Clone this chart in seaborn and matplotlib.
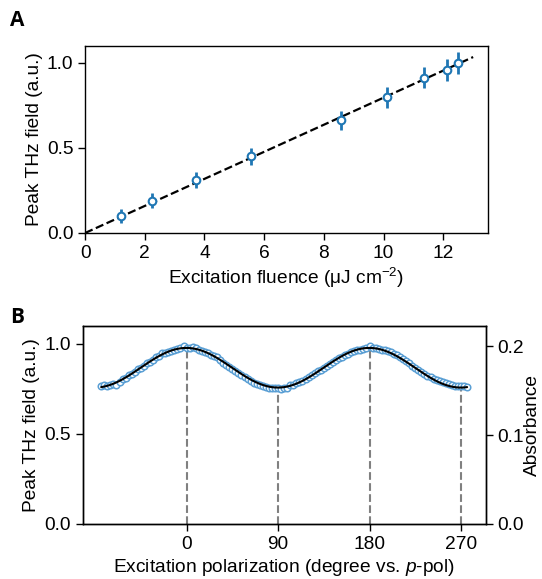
import numpy as np
import pandas as pd
import matplotlib
matplotlib.use("Agg")
import matplotlib.pyplot as plt
import seaborn as sns

# panel A: peak field vs fluence
fluence = [1.20, 2.24, 3.70, 5.57, 8.58, 10.11, 11.35, 12.14, 12.50]
peak_field = [0.100, 0.190, 0.310, 0.450, 0.663, 0.798, 0.914, 0.959, 1.002]
peak_err = [0.040, 0.044, 0.047, 0.050, 0.057, 0.060, 0.064, 0.065, 0.065]

# panel B: peak field vs polarization angle
angle_start, angle_step = -84, 3
pol_field = [
    0.768, 0.770, 0.768, 0.773, 0.778, 0.774, 0.790, 0.805, 0.812, 0.828,
    0.836, 0.846, 0.860, 0.868, 0.878, 0.892, 0.901, 0.913, 0.926, 0.934,
    0.948, 0.950, 0.955, 0.962, 0.968, 0.972, 0.980, 0.986, 0.978, 0.976,
    0.982, 0.979, 0.968, 0.962, 0.955, 0.952, 0.940, 0.933, 0.925, 0.910,
    0.896, 0.884, 0.872, 0.862, 0.851, 0.840, 0.828, 0.816, 0.806, 0.797,
    0.786, 0.778, 0.770, 0.764, 0.759, 0.757, 0.758, 0.754, 0.755, 0.752,
    0.756, 0.757, 0.770, 0.774, 0.783, 0.790, 0.796, 0.806, 0.815, 0.826,
    0.837, 0.848, 0.856, 0.868, 0.880, 0.890, 0.902, 0.911, 0.920, 0.930,
    0.936, 0.945, 0.956, 0.962, 0.964, 0.968, 0.970, 0.975, 0.988, 0.978,
    0.975, 0.974, 0.969, 0.965, 0.960, 0.953, 0.944, 0.936, 0.925, 0.915,
    0.904, 0.894, 0.878, 0.868, 0.857, 0.846, 0.832, 0.822, 0.815, 0.807,
    0.800, 0.792, 0.787, 0.781, 0.776, 0.772, 0.769, 0.765, 0.764, 0.768,
    0.761,
]
pol_angle = angle_start + angle_step * np.arange(len(pol_field))
marked_angles = [0, 90, 180, 270]
absorb_top = 0.223

sns.set_theme(style="ticks")
plt.rcParams["font.family"] = ["Liberation Sans", "DejaVu Sans"]
plt.rcParams["mathtext.fontset"] = "custom"
plt.rcParams["mathtext.rm"] = "Liberation Sans"
plt.rcParams["mathtext.it"] = "Liberation Sans:italic"
fs = 13.8
plt.rcParams["font.size"] = fs
for k in ["axes.labelsize", "xtick.labelsize", "ytick.labelsize"]:
    plt.rcParams[k] = fs
for k in ["text.color", "axes.labelcolor", "xtick.color", "ytick.color", "axes.edgecolor"]:
    plt.rcParams[k] = "black"
plt.rcParams["axes.linewidth"] = 1.0
plt.rcParams["xtick.major.width"] = 1.0
plt.rcParams["ytick.major.width"] = 1.0
plt.rcParams["xtick.major.size"] = 5
plt.rcParams["ytick.major.size"] = 5

blue = "#1f77b4"
fig = plt.figure(figsize=(5.42, 5.79), dpi=100)
ax1 = fig.add_axes([0.157, 0.5976, 0.7435, 0.323])
ax2 = fig.add_axes([0.153, 0.095, 0.7435, 0.342])

# A
fx = np.array(fluence)
fy = np.array(peak_field)
slope = (fx * fy).sum() / (fx * fx).sum()
line_x = np.array([0, 13.0])
ax1.plot(line_x, slope * line_x, ls="--", color="black", lw=1.6, zorder=1)
ax1.errorbar(fluence, peak_field, yerr=peak_err, fmt="none", ecolor=blue,
             elinewidth=2, capsize=0, zorder=2)
df_a = pd.DataFrame({"fluence": fluence, "field": peak_field})
sns.scatterplot(data=df_a, x="fluence", y="field", ax=ax1, s=30,
                facecolor="white", edgecolor=blue, linewidth=1.5, zorder=3)
ax1.set_xlim(0, 13.5)
ax1.set_ylim(0, 1.1)
ax1.set_xticks([0, 2, 4, 6, 8, 10, 12])
ax1.set_yticks([0.0, 0.5, 1.0])
ax1.set_xlabel(r"Excitation fluence (μJ cm$^{-2}$)", labelpad=3)
ax1.set_ylabel("Peak THz field (a.u.)", labelpad=3)

# B
th = np.deg2rad(pol_angle)
design = np.column_stack([np.ones_like(th), np.cos(2 * th), np.sin(2 * th)])
coef = np.linalg.lstsq(design, np.array(pol_field), rcond=None)[0]
fit_angle = np.linspace(pol_angle[0], pol_angle[-1], 400)
ft = np.deg2rad(fit_angle)
fit_val = coef[0] + coef[1] * np.cos(2 * ft) + coef[2] * np.sin(2 * ft)

df_b = pd.DataFrame({"angle": pol_angle, "field": pol_field})
sns.scatterplot(data=df_b, x="angle", y="field", ax=ax2, s=22,
                facecolor="white", edgecolor="#5a9fd4", linewidth=1.1, zorder=2)
sns.lineplot(x=fit_angle, y=fit_val, ax=ax2, color="black", lw=1.5, zorder=3)
for a in marked_angles:
    t = np.deg2rad(a)
    top = coef[0] + coef[1] * np.cos(2 * t) + coef[2] * np.sin(2 * t)
    ax2.plot([a, a], [0, top], ls="--", color="#808080", lw=1.5, zorder=1)
ax2.set_xlim(-102, 294.5)
ax2.set_ylim(0, 1.1)
ax2.set_xticks(marked_angles)
ax2.set_yticks([0.0, 0.5, 1.0])
ax2.set_xlabel(r"Excitation polarization (degree vs. $p$-pol)", labelpad=3)
ax2.set_ylabel("Peak THz field (a.u.)", labelpad=3)

ax3 = ax2.twinx()
ax3.set_ylim(0, absorb_top)
ax3.set_yticks([0.0, 0.1, 0.2])
ax3.set_ylabel("Absorbance", labelpad=0)

fig.text(0.018, 0.955, "A", fontsize=15, fontweight="bold", family="Open Sans")
fig.text(0.018, 0.443, "B", fontsize=15, fontweight="bold", family="Open Sans")

fig.savefig("out.png", dpi=100)
